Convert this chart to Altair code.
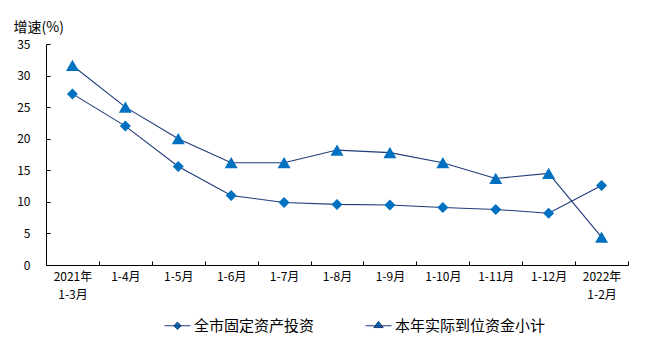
import altair as alt
import pandas as pd

categories = ["2021年1-3月", "1-4月", "1-5月", "1-6月", "1-7月", "1-8月",
              "1-9月", "1-10月", "1-11月", "1-12月", "2022年1-2月"]
series_names = ["全市固定资产投资", "本年实际到位资金小计"]
investment = [27.1, 22.0, 15.6, 11.0, 9.9, 9.6, 9.5, 9.1, 8.8, 8.2, 12.6]
funds = [31.6, 25.0, 20.0, 16.2, 16.2, 18.2, 17.8, 16.2, 13.7, 14.5, 4.4]
y_ticks = [0, 5, 10, 15, 20, 25, 30, 35]

rows = []
for c, a, b in zip(categories, investment, funds):
    rows.append({"period": c, "series": series_names[0], "value": a})
    rows.append({"period": c, "series": series_names[1], "value": b})
df = pd.DataFrame(rows)

FONT = "Noto Sans CJK SC"
NAVY = "#1F3A7A"
BLUE = "#0070C0"

TRI = "M0,-0.866L1,0.866L-1,0.866Z"
LEG_DIAMOND = "M-1,0L1,0M0,-0.28L0.28,0L0,0.28L-0.28,0Z"
LEG_TRI = "M-1,0L1,0M0,-0.34L0.36,0.14L-0.36,0.14Z"

label_expr = ("indexof(datum.label,'年') > 0 ? "
              "[slice(datum.label,0,indexof(datum.label,'年')+1), "
              "slice(datum.label,indexof(datum.label,'年')+1)] : datum.label")

x_enc = alt.X(
    "period:N", sort=categories,
    scale=alt.Scale(paddingInner=0, paddingOuter=0),
    axis=alt.Axis(title=None, labelAngle=0, labelFontSize=12, labelFont=FONT,
                  labelColor="black", labelExpr=label_expr, tickBand="extent",
                  tickSize={"expr": "-4"}, labelPadding=10, labelLineHeight=18,
                  domainColor="black", tickColor="black", grid=False),
)
y_enc = alt.Y(
    "value:Q",
    scale=alt.Scale(domain=[0, 35], nice=False, zero=True),
    axis=alt.Axis(values=y_ticks, title="增速(%)", titleAngle=0, titleAlign="left",
                  titleBaseline="middle", titleX=-33, titleY=-17, titleFont=FONT,
                  titleFontSize=14, titleFontWeight="normal", titleColor="black",
                  labelFont=FONT, labelFontSize=12, labelColor="black",
                  tickSize={"expr": "-4"}, labelPadding=20, domainColor="black",
                  tickColor="black", grid=False),
)

base = alt.Chart(df)

lines = base.mark_line(color=NAVY, strokeWidth=1.1).encode(
    x=x_enc, y=y_enc, detail="series:N")

diamonds = base.transform_filter(alt.datum.series == series_names[0]).mark_point(
    shape="diamond", filled=True, color=BLUE, size=121, opacity=1).encode(x=x_enc, y=y_enc)

triangles = base.transform_filter(alt.datum.series == series_names[1]).mark_point(
    shape=TRI, filled=True, color=BLUE, size=169, opacity=1).encode(x=x_enc, y=y_enc)

legend_layer = base.transform_filter("false").mark_point(
    filled=True, fill=BLUE, stroke=NAVY, strokeWidth=1, size=676, opacity=1
).encode(
    shape=alt.Shape("series:N",
                    scale=alt.Scale(domain=series_names, range=[LEG_DIAMOND, LEG_TRI]),
                    legend=alt.Legend(title=None, orient="none", legendX=118, legendY=268,
                                      direction="horizontal", symbolSize=676,
                                      labelFontSize=15, labelFont=FONT, labelColor="black",
                                      labelOffset=3, columnPadding=48, symbolStrokeWidth=1,
                                      padding=0, labelLimit=400))
)

chart = alt.layer(lines, diamonds, triangles, legend_layer).properties(
    width=582, height=221,
    autosize=alt.AutoSizeParams(type="none"),
    padding={"left": 46, "top": 44, "right": 35, "bottom": 87},
    background="white",
).configure_view(stroke=None)

chart.save("out.html", embed_options={"renderer": "svg", "actions": False})
